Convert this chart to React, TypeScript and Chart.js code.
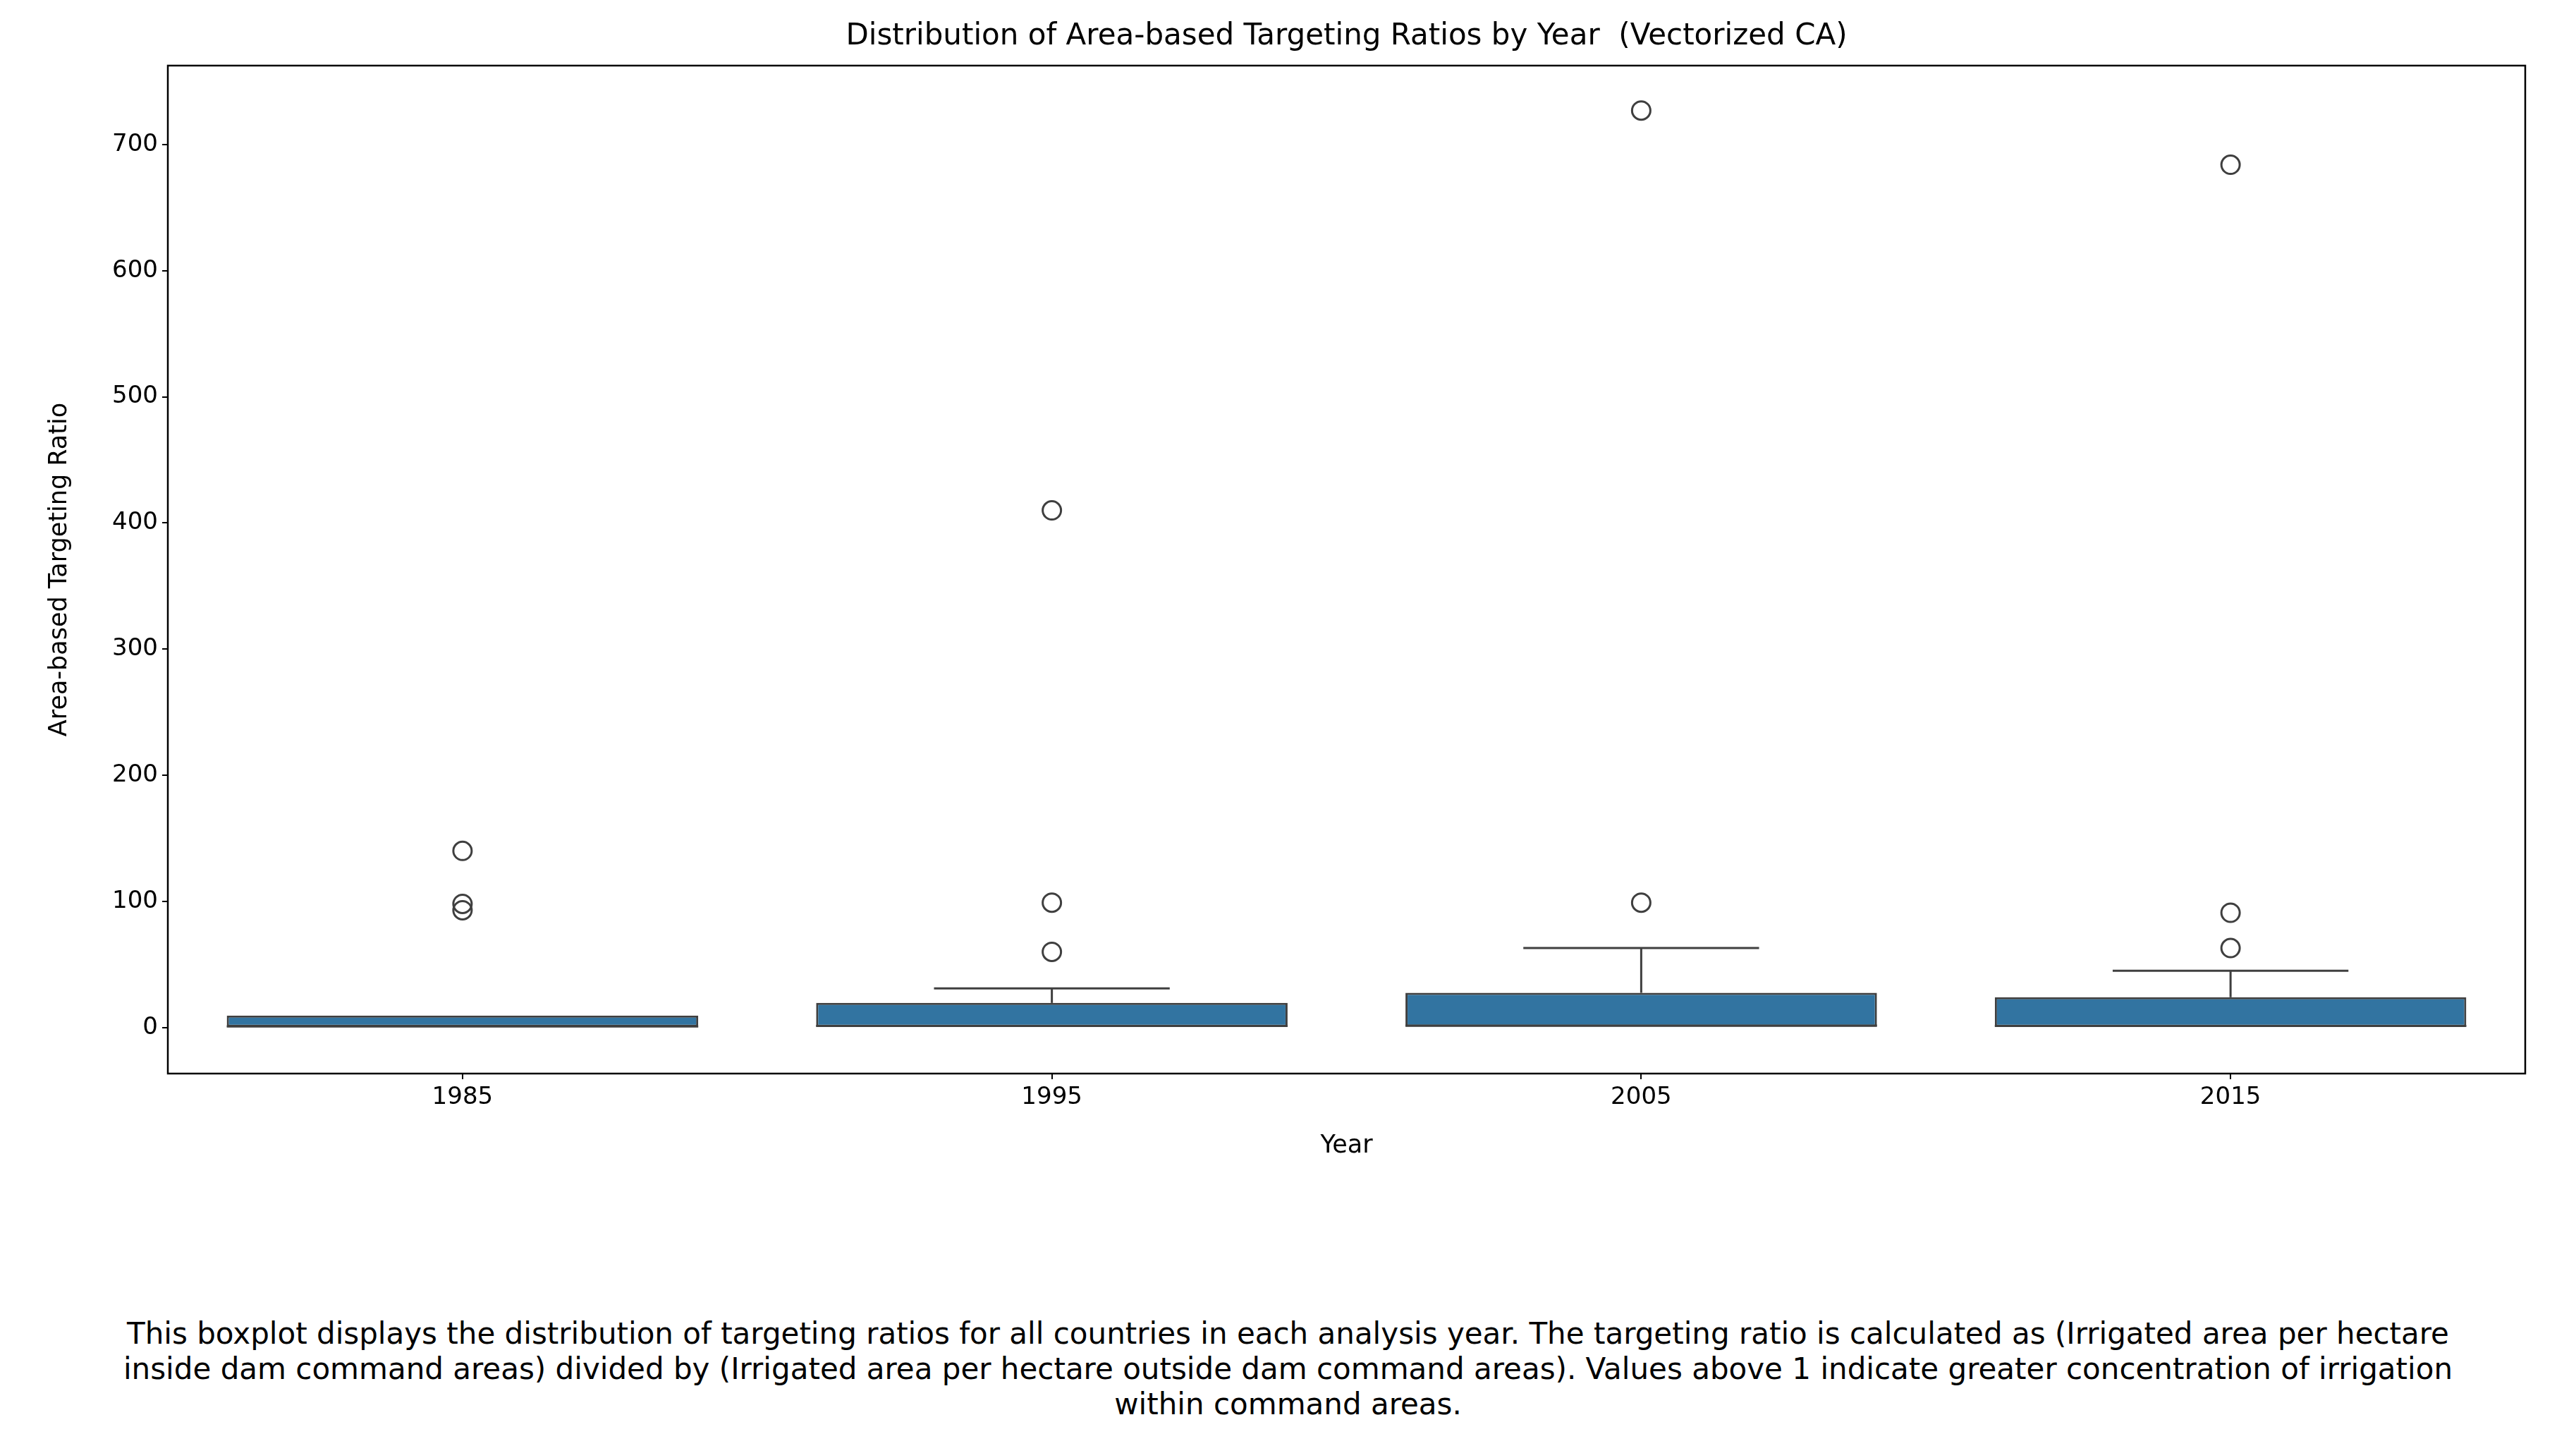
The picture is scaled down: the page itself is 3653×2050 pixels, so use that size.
import React, { useEffect, useRef } from "react";
import { Chart, registerables } from "chart.js";
Chart.register(...registerables);

const years = ["1985", "1995", "2005", "2015"];
const q1 = [0, 0, 0, 0];
const medians = [0.8, 1.2, 1.5, 1.2];
const q3 = [9.5, 19.5, 27.5, 24];
const whiskerHigh = [9.5, 31, 63, 45];
const outliers = [[140, 98, 93], [410, 99, 60], [727, 99], [684, 91, 63]];
const yTicks = [0, 100, 200, 300, 400, 500, 600, 700];

const BOX = "#3274a1";
const EDGE = "#3f3f3f";

export default function App() {
  const ref = useRef<HTMLCanvasElement>(null);
  useEffect(() => {
    const datasets: any[] = [];
    datasets.push({
      type: "bar",
      data: years.map((_, i) => ({ x: i, y: [q1[i], q3[i]] })),
      backgroundColor: BOX,
      borderColor: EDGE,
      borderWidth: 3,
      borderSkipped: false,
      barPercentage: 0.8,
      categoryPercentage: 1,
      order: 2,
    });
    years.forEach((_, i) => {
      const line = (pts: any[]) => ({
        type: "line",
        data: pts,
        borderColor: EDGE,
        borderWidth: 3,
        pointRadius: 0,
        showLine: true,
        order: 1,
      });
      if (whiskerHigh[i] > q3[i]) {
        datasets.push(line([{ x: i, y: q3[i] }, { x: i, y: whiskerHigh[i] }]));
        datasets.push(line([{ x: i - 0.2, y: whiskerHigh[i] }, { x: i + 0.2, y: whiskerHigh[i] }]));
      }
      datasets.push(line([{ x: i - 0.4, y: medians[i] }, { x: i + 0.4, y: medians[i] }]));
      datasets.push({
        type: "scatter",
        data: outliers[i].map((v) => ({ x: i, y: v })),
        pointRadius: 13,
        pointBackgroundColor: "rgba(0,0,0,0)",
        pointBorderColor: EDGE,
        pointBorderWidth: 3,
        order: 0,
      });
    });
    const frame = {
      id: "frame",
      afterDraw(c: any) {
        const { left, right, top, bottom } = c.chartArea;
        const ctx = c.ctx;
        ctx.save();
        ctx.strokeStyle = "#000";
        ctx.lineWidth = 2.5;
        ctx.strokeRect(left, top, right - left, bottom - top);
        ctx.restore();
      },
    };
    const font = { family: "DejaVu Sans", size: 34 };
    const tfont = { family: "DejaVu Sans", size: 35 };
    const chart = new Chart(ref.current!, {
      type: "bar",
      data: { datasets },
      plugins: [frame],
      options: {
        animation: false,
        responsive: false,
        devicePixelRatio: 1,
        layout: { padding: { top: 93, right: 72, left: 60, bottom: 0 } },
        plugins: { legend: { display: false }, tooltip: { enabled: false } },
        scales: {
          x: {
            type: "linear",
            offset: false,
            min: -0.5,
            max: 3.5,
            afterBuildTicks: (s: any) => { s.ticks = years.map((_, i) => ({ value: i })); },
            afterFit: (s: any) => { s.height = 128; },
            ticks: { color: "#000", font, callback: (v: any) => years[v] ?? "", padding: 6 },
            grid: { display: true, offset: false, drawOnChartArea: false, drawTicks: true, tickLength: 8, color: "#000", lineWidth: 2 },
            border: { display: false },
            title: { display: true, text: "Year", color: "#000", font: tfont },
          },
          y: {
            min: -36.5,
            max: 762.6,
            afterBuildTicks: (s: any) => { s.ticks = yTicks.map((v) => ({ value: v })); },
            afterFit: (s: any) => { s.width = 178; },
            ticks: { color: "#000", font, padding: 6 },
            grid: { display: true, drawOnChartArea: false, drawTicks: true, tickLength: 8, color: "#000", lineWidth: 2 },
            border: { display: false },
            title: { display: true, text: "Area-based Targeting Ratio", color: "#000", font: tfont },
          },
        },
      } as any,
    });
    return () => chart.destroy();
  }, []);
  return (
    <div style={{ position: "fixed", left: 0, top: 0, width: 3653, height: 2050, background: "#fff", fontFamily: "DejaVu Sans" }}>
      <canvas ref={ref} width={3653} height={1650} style={{ position: "absolute", left: 0, top: 0 }} />
      <div style={{ position: "absolute", left: 238, width: 3343, top: 24, textAlign: "center", fontSize: 42, color: "#000", whiteSpace: "nowrap" }}>
        Distribution of Area-based Targeting Ratios by Year&nbsp; (Vectorized CA)
      </div>
      <div style={{ position: "absolute", left: 0, width: 3653, top: 1866, textAlign: "center", fontSize: 42, lineHeight: "50px", color: "#000", whiteSpace: "nowrap" }}>
        This boxplot displays the distribution of targeting ratios for all countries in each analysis year. The targeting ratio is calculated as (Irrigated area per hectare<br />
        inside dam command areas) divided by (Irrigated area per hectare outside dam command areas). Values above 1 indicate greater concentration of irrigation<br />
        within command areas.
      </div>
    </div>
  );
}
